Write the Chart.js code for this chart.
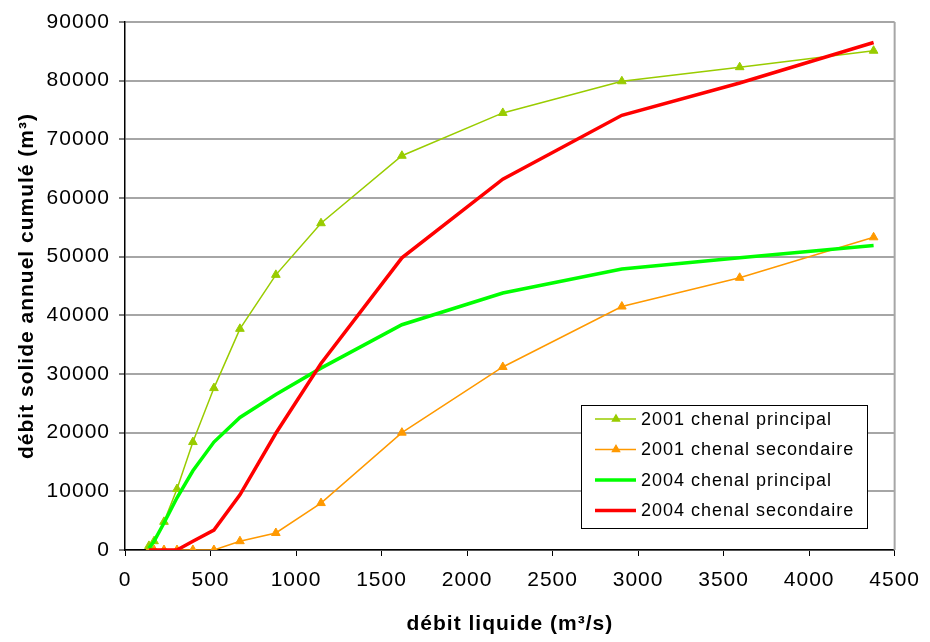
<!DOCTYPE html>
<html>
<head>
<meta charset="utf-8">
<script src="https://cdn.jsdelivr.net/npm/chart.js@4/dist/chart.umd.min.js"></script>
<style>
  html, body { margin: 0; padding: 0; background: #fff; }
  #wrap { width: 930px; height: 642px; position: relative; }
</style>
</head>
<body>
<div id="wrap"><canvas id="c" width="930" height="642"></canvas></div>
<script>
// débit liquide (m3/s)
const debitLiquide = [140, 170, 228, 304, 397, 520, 672, 882, 1146, 1619, 2209, 2905, 3594, 4377];
// débit solide annuel cumulé (m3)
const principal2001  = [700, 1500, 4800, 10400, 18400, 27600, 37700, 46900, 55700, 67200, 74500, 79900, 82300, 85100];
const secondaire2001 = [0, 0, 0, 0, 0, 0, 1500, 2900, 8000, 20000, 31200, 41500, 46400, 53300];
const principal2004  = [300, 1500, 4600, 8900, 13500, 18400, 22600, 26500, 31000, 38400, 43800, 47900, 49800, 51900];
const secondaire2004 = [0, 0, 0, 0, 1500, 3400, 9400, 19900, 31800, 49800, 63200, 74100, 79600, 86500];

const seriesLabels = ['2001 chenal principal', '2001 chenal secondaire', '2004 chenal principal', '2004 chenal secondaire'];
const xTicks = [0, 500, 1000, 1500, 2000, 2500, 3000, 3500, 4000, 4500];
const yTicks = [0, 10000, 20000, 30000, 40000, 50000, 60000, 70000, 80000, 90000];

const toPts = arr => debitLiquide.map((x, i) => ({ x: x, y: arr[i] }));

const FONT = "'Liberation Sans', Arial, sans-serif";

const spacingPlugin = {
  id: 'spacing',
  beforeDraw(chart) { chart.ctx.letterSpacing = '1px'; }
};

const legendPlugin = {
  id: 'insideLegend',
  afterDraw(chart) {
    const ctx = chart.ctx;
    const bx = 581, by = 405, bw = 286, bh = 123;
    ctx.save();
    ctx.letterSpacing = '1px';
    ctx.fillStyle = '#ffffff';
    ctx.fillRect(bx, by, bw, bh);
    ctx.strokeStyle = '#000000';
    ctx.lineWidth = 1;
    ctx.strokeRect(bx + 0.5, by + 0.5, bw, bh);
    ctx.font = '18px ' + FONT;
    ctx.textBaseline = 'middle';
    ctx.textAlign = 'left';
    chart.data.datasets.forEach((ds, i) => {
      const y = by + 14 + i * 30.5;
      ctx.strokeStyle = ds.borderColor;
      ctx.lineWidth = ds.borderWidth;
      ctx.beginPath();
      ctx.moveTo(bx + 14, y);
      ctx.lineTo(bx + 55, y);
      ctx.stroke();
      if (ds.pointRadius > 0) {
        Chart.helpers.drawPoint(ctx, { pointStyle: 'triangle', radius: 4, borderWidth: 1, rotation: 0 }, bx + 35, y);
        ctx.fillStyle = ds.backgroundColor;
        ctx.fill();
      }
      ctx.fillStyle = '#000000';
      ctx.fillText(ds.label, bx + 60, y + 1);
    });
    ctx.restore();
  }
};

const frameplugin = {
  id: 'rightFrame',
  beforeDatasetsDraw(chart) {
    const { ctx, chartArea } = chart;
    ctx.save();
    ctx.strokeStyle = '#a6a6a6';
    ctx.lineWidth = 2;
    ctx.beginPath();
    ctx.moveTo(chartArea.right, chartArea.top);
    ctx.lineTo(chartArea.right, chartArea.bottom);
    ctx.stroke();
    ctx.restore();
  }
};

const plain = v => String(v);

new Chart(document.getElementById('c'), {
  type: 'scatter',
  data: {
    datasets: [
      { label: seriesLabels[0], data: toPts(principal2001), showLine: true, borderColor: '#99cc00', backgroundColor: '#99cc00',
        borderWidth: 1.5, pointStyle: 'triangle', pointRadius: 5, pointBorderWidth: 1, order: 3 },
      { label: seriesLabels[1], data: toPts(secondaire2001), showLine: true, borderColor: '#ff9900', backgroundColor: '#ff9900',
        borderWidth: 1.5, pointStyle: 'triangle', pointRadius: 5, pointBorderWidth: 1, order: 4 },
      { label: seriesLabels[2], data: toPts(principal2004), showLine: true, borderColor: '#00ff00', backgroundColor: '#00ff00',
        borderWidth: 3.5, pointRadius: 0, order: 2 },
      { label: seriesLabels[3], data: toPts(secondaire2004), showLine: true, borderColor: '#ff0000', backgroundColor: '#ff0000',
        borderWidth: 3.5, pointRadius: 0, order: 1 }
    ]
  },
  options: {
    responsive: false,
    animation: false,
    layout: { padding: { left: 0, right: 35, top: 22, bottom: 0 } },
    plugins: {
      legend: { display: false },
      tooltip: { enabled: false }
    },
    elements: { line: { tension: 0 } },
    scales: {
      x: {
        type: 'linear', min: 0, max: 4500,
        afterBuildTicks: s => { s.ticks = xTicks.map(v => ({ value: v })); },
        afterFit: s => { s.height = 92; },
        grid: { drawOnChartArea: false, drawTicks: true, tickLength: 6, tickColor: '#000', tickWidth: 1 },
        border: { color: '#000', width: 1.5 },
        ticks: { color: '#000', font: { family: FONT, size: 21 }, padding: 12, maxRotation: 0, callback: plain },
        title: { display: true, text: 'débit liquide (m³/s)', color: '#000',
                 font: { family: FONT, size: 21, weight: 'bold' }, padding: { top: 0, bottom: 5 } }
      },
      y: {
        type: 'linear', min: 0, max: 90000,
        afterBuildTicks: s => { s.ticks = yTicks.map(v => ({ value: v })); },
        afterFit: s => { s.width = 125; },
        grid: { color: '#a6a6a6', lineWidth: 2, drawTicks: true, tickLength: 6, tickColor: '#000', tickWidth: 1 },
        border: { color: '#000', width: 1.5 },
        ticks: { color: '#000', font: { family: FONT, size: 21 }, padding: 9, callback: plain },
        title: { display: true, text: 'débit solide annuel cumulé (m³)', color: '#000',
                 font: { family: FONT, size: 21, weight: 'bold' }, padding: { top: 15, bottom: 0 } }
      }
    }
  },
  plugins: [spacingPlugin, frameplugin, legendPlugin]
});
</script>
</body>
</html>
